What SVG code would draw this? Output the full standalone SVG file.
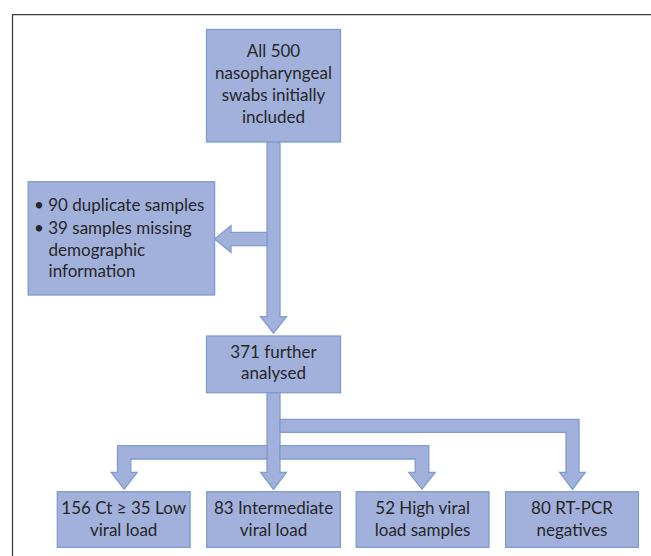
<svg xmlns="http://www.w3.org/2000/svg" width="651" height="556" viewBox="0 0 651 556">
<style>
.box{fill:#A2B1DC;stroke:#7F9BD0;stroke-width:1.3}
.arr{fill:#A2B1DC;stroke:#7F9BD0;stroke-width:1.3;stroke-linejoin:miter}
text{font-family:Lato,"Open Sans","Liberation Sans",sans-serif;font-size:17px;fill:#262626}
.c{text-anchor:middle}
</style>
<rect x="0" y="0" width="651" height="556" fill="#ffffff"/>
<path d="M12.5 556 V14.7 H651" fill="none" stroke="#3a3a3a" stroke-width="1.2"/>
<g id="connectors">
<polygon class="arr" points="267,142 280,142 280,316.7 286.4,316.7 273.5,333.3 260.6,316.7 267,316.7"/>
<polygon class="arr" points="267,232.3 231,232.3 231,225.7 214.6,239 231,252.3 231,245.7 267,245.7"/>
<polygon class="arr" points="267,392.7 280,392.7 280,472.3 286.4,472.3 273.5,489.3 260.6,472.3 267,472.3"/>
<polygon class="arr" points="280,419.3 579,419.3 579,472.3 585.3,472.3 572.5,489.3 559.7,472.3 566,472.3 566,432.3 280,432.3"/>
<polygon class="arr" points="117.5,445.7 267,445.7 267,459 130.8,459 130.8,472.3 137.2,472.3 124.2,489.3 111.2,472.3 117.5,472.3"/>
<polygon class="arr" points="280,445.7 428.8,445.7 428.8,472.3 435.2,472.3 422,489.3 408.8,472.3 415.2,472.3 415.2,459 280,459"/>
</g>
<g id="n-top">
<rect class="box" x="206.5" y="29.5" width="134" height="112.5"/>
<text class="c" x="273.5" y="56.7">All 500</text>
<text class="c" x="273.5" y="79">nasopharyngeal</text>
<text class="c" x="273.5" y="101">swabs initially</text>
<text class="c" x="273.5" y="123.3">included</text>
</g>
<g id="n-excluded">
<rect class="box" x="28.2" y="181.7" width="186.4" height="113.3"/>
<text x="34" y="210.7">• 90 duplicate samples</text>
<text x="34" y="234">• 39 samples missing</text>
<text x="48.6" y="256">demographic</text>
<text x="48.6" y="277.3">information</text>
</g>
<g id="n-analysed">
<rect class="box" x="206.5" y="336" width="134" height="56.7"/>
<text class="c" x="273.5" y="357.7">371 further</text>
<text class="c" x="273.5" y="379.3">analysed</text>
</g>
<g id="n-low">
<rect class="box" x="57.3" y="491.7" width="132.8" height="55.6"/>
<text class="c" x="123.7" y="514">156 Ct ≥ 35 Low</text>
<text class="c" x="123.7" y="535.7">viral load</text>
</g>
<g id="n-intermediate">
<rect class="box" x="206.7" y="491.7" width="133.7" height="55.6"/>
<text class="c" x="273.5" y="514">83 Intermediate</text>
<text class="c" x="273.5" y="535.7">viral load</text>
</g>
<g id="n-high">
<rect class="box" x="356.2" y="491.7" width="132.8" height="55.6"/>
<text class="c" x="422.6" y="514">52 High viral</text>
<text class="c" x="422.6" y="535.7">load samples</text>
</g>
<g id="n-negative">
<rect class="box" x="505.6" y="491.7" width="132.8" height="55.6"/>
<text class="c" x="572" y="514">80 RT-PCR</text>
<text class="c" x="572" y="535.7">negatives</text>
</g>
</svg>
